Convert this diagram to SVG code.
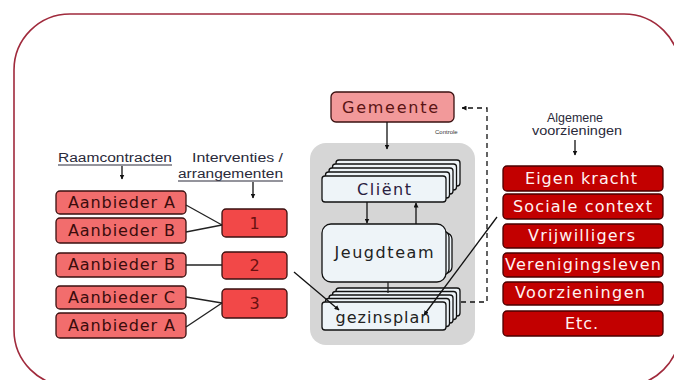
<svg xmlns="http://www.w3.org/2000/svg" width="674" height="380" viewBox="0 0 674 380">
<defs>
<marker id="ah" viewBox="0 0 10 10" refX="9" refY="5" markerWidth="5" markerHeight="5" orient="auto" markerUnits="userSpaceOnUse"><path d="M0,0 L10,5 L0,10 z" fill="#111"/></marker>
<style>
.hdr{font-family:"Liberation Sans",Arial,sans-serif;font-size:12px;fill:#2a2a3a;}
.sm{font-family:"DejaVu Sans",sans-serif;font-size:16px;}
.pink{fill:#f26d6d;stroke:#3a1010;stroke-width:1.3;}
.num{fill:#f24848;stroke:#3a1010;stroke-width:1.3;}
.red{fill:#c20000;stroke:#4a0000;stroke-width:1.3;}
.dk{fill:#3a0c0c;}
.wt{fill:#fff2f2;}
.wbox{fill:#eef4f8;stroke:#111;stroke-width:1.3;}
.ln{stroke:#222;stroke-width:1.3;fill:none;}
.ar{stroke:#111;stroke-width:1.3;fill:none;marker-end:url(#ah);}
</style>
</defs>
<rect x="0" y="0" width="674" height="380" fill="#fff"/>
<rect x="14" y="14" width="666" height="372" rx="56" ry="56" fill="none" stroke="#a02a3c" stroke-width="1.6"/>

<g id="container"><rect x="310" y="143" width="165" height="202" rx="16" fill="#d6d6d6"/></g>

<g id="headers">
<text class="hdr" x="58" y="162" textLength="114" lengthAdjust="spacingAndGlyphs">Raamcontracten</text>
<line x1="58" y1="165" x2="172" y2="165" stroke="#2a2a3a" stroke-width="1.2"/>
<text class="hdr" x="192" y="162" textLength="91" lengthAdjust="spacingAndGlyphs">Interventies /</text>
<text class="hdr" x="178" y="178" textLength="105" lengthAdjust="spacingAndGlyphs">arrangementen</text>
<line x1="178" y1="181" x2="283" y2="181" stroke="#2a2a3a" stroke-width="1.2"/>
<text class="hdr" x="575" y="122" text-anchor="middle" textLength="56" lengthAdjust="spacingAndGlyphs">Algemene</text>
<text class="hdr" x="577" y="135" text-anchor="middle" textLength="90" lengthAdjust="spacingAndGlyphs">voorzieningen</text>
<text x="435" y="134" font-family="Liberation Sans, sans-serif" font-size="6" fill="#333">Controle</text>
</g>

<g id="aanbieder-a1"><rect class="pink" x="56" y="191" width="130" height="23" rx="4"/><text class="sm dk" x="68" y="208" textLength="107" lengthAdjust="spacing">Aanbieder A</text></g>
<g id="aanbieder-b1"><rect class="pink" x="56" y="218" width="130" height="25" rx="4"/><text class="sm dk" x="68" y="236" textLength="107" lengthAdjust="spacing">Aanbieder B</text></g>
<g id="aanbieder-b2"><rect class="pink" x="56" y="253" width="130" height="24" rx="4"/><text class="sm dk" x="68" y="270" textLength="107" lengthAdjust="spacing">Aanbieder B</text></g>
<g id="aanbieder-c"><rect class="pink" x="56" y="286" width="130" height="23" rx="4"/><text class="sm dk" x="68" y="303" textLength="107" lengthAdjust="spacing">Aanbieder C</text></g>
<g id="aanbieder-a2"><rect class="pink" x="56" y="313" width="130" height="25" rx="4"/><text class="sm dk" x="68" y="331" textLength="107" lengthAdjust="spacing">Aanbieder A</text></g>

<g id="int-1"><rect class="num" x="222" y="209" width="65" height="28" rx="4"/><text class="sm" x="254.5" y="229" text-anchor="middle" fill="#6a1010">1</text></g>
<g id="int-2"><rect class="num" x="222" y="252" width="65" height="27" rx="4"/><text class="sm" x="254.5" y="271" text-anchor="middle" fill="#6a1010">2</text></g>
<g id="int-3"><rect class="num" x="222" y="289" width="65" height="29" rx="4"/><text class="sm" x="254.5" y="309" text-anchor="middle" fill="#6a1010">3</text></g>

<g id="gemeente"><rect x="331" y="92" width="123" height="30" rx="5" fill="#f2999a" stroke="#3a1010" stroke-width="1.3"/><text class="sm" x="390" y="113" text-anchor="middle" fill="#5a1414" font-size="17" textLength="96" lengthAdjust="spacing">Gemeente</text></g>

<g id="client">
<rect class="wbox" x="336" y="160" width="124" height="26" rx="3"/>
<rect class="wbox" x="332.5" y="164" width="124" height="26" rx="3"/>
<rect class="wbox" x="329" y="168" width="124" height="26" rx="3"/>
<rect class="wbox" x="325.5" y="172" width="124" height="26" rx="3"/>
<rect class="wbox" x="322" y="176" width="124" height="26" rx="3"/>
<text class="sm" x="384" y="195" text-anchor="middle" fill="#2a2040" textLength="54" lengthAdjust="spacing">Cliënt</text>
</g>

<g id="jeugdteam">
<rect class="wbox" x="330" y="233" width="122" height="40" rx="6"/>
<rect class="wbox" x="327" y="231" width="122" height="44" rx="6"/>
<rect class="wbox" x="322" y="224" width="124" height="58" rx="9"/>
<text class="sm" x="384" y="258" text-anchor="middle" fill="#222" font-size="17" textLength="99" lengthAdjust="spacing">Jeugdteam</text>
</g>

<g id="gezinsplan">
<rect class="wbox" x="336" y="288" width="124" height="28" rx="3"/>
<rect class="wbox" x="332.5" y="291.5" width="124" height="28" rx="3"/>
<rect class="wbox" x="329" y="295" width="124" height="28" rx="3"/>
<rect class="wbox" x="325.5" y="298.5" width="124" height="28" rx="3"/>
<rect class="wbox" x="322" y="302" width="124" height="28" rx="3"/>
<text class="sm" x="383" y="323" text-anchor="middle" fill="#222" textLength="95" lengthAdjust="spacing">gezinsplan</text>
</g>

<g id="r-eigen"><rect class="red" x="503" y="166" width="160" height="25" rx="4"/><text class="sm wt" x="581" y="184" text-anchor="middle" textLength="112" lengthAdjust="spacing">Eigen kracht</text></g>
<g id="r-sociale"><rect class="red" x="503" y="194" width="160" height="25" rx="4"/><text class="sm wt" x="582.5" y="212" text-anchor="middle" textLength="139" lengthAdjust="spacing">Sociale context</text></g>
<g id="r-vrij"><rect class="red" x="503" y="224" width="160" height="24" rx="4"/><text class="sm wt" x="581.5" y="241" text-anchor="middle" textLength="107" lengthAdjust="spacing">Vrijwilligers</text></g>
<g id="r-ver"><rect class="red" x="503" y="253" width="160" height="24" rx="4"/><text class="sm wt" x="583" y="270" text-anchor="middle" textLength="156" lengthAdjust="spacing">Verenigingsleven</text></g>
<g id="r-voor"><rect class="red" x="503" y="282" width="160" height="23" rx="4"/><text class="sm wt" x="580" y="298" text-anchor="middle" textLength="130" lengthAdjust="spacing">Voorzieningen</text></g>
<g id="r-etc"><rect class="red" x="503" y="311" width="160" height="25" rx="4"/><text class="sm wt" x="581.5" y="329" text-anchor="middle" textLength="33" lengthAdjust="spacing">Etc.</text></g>

<g id="connectors">
<line class="ar" x1="122" y1="166" x2="122" y2="179"/>
<line class="ar" x1="253" y1="182" x2="253" y2="198"/>
<line class="ar" x1="575" y1="140" x2="575" y2="155"/>
<line class="ar" x1="387" y1="122" x2="387" y2="149"/>
<line class="ar" x1="367" y1="202" x2="367" y2="223"/>
<line class="ar" x1="416" y1="224" x2="416" y2="203"/>
<line class="ln" x1="388" y1="282" x2="388" y2="293"/>
<line class="ln" x1="186" y1="205" x2="222" y2="225"/>
<line class="ln" x1="186" y1="232" x2="222" y2="225"/>
<line class="ln" x1="186" y1="265" x2="222" y2="265"/>
<line class="ln" x1="186" y1="297" x2="222" y2="303"/>
<line class="ln" x1="186" y1="327" x2="222" y2="303"/>
<line class="ar" x1="294" y1="272" x2="339" y2="310"/>
<line class="ar" x1="497" y1="217" x2="424" y2="315"/>
<path d="M461,302 H487 V108 H462" fill="none" stroke="#111" stroke-width="1.3" stroke-dasharray="5,4" marker-end="url(#ah)"/>
</g>
</svg>
